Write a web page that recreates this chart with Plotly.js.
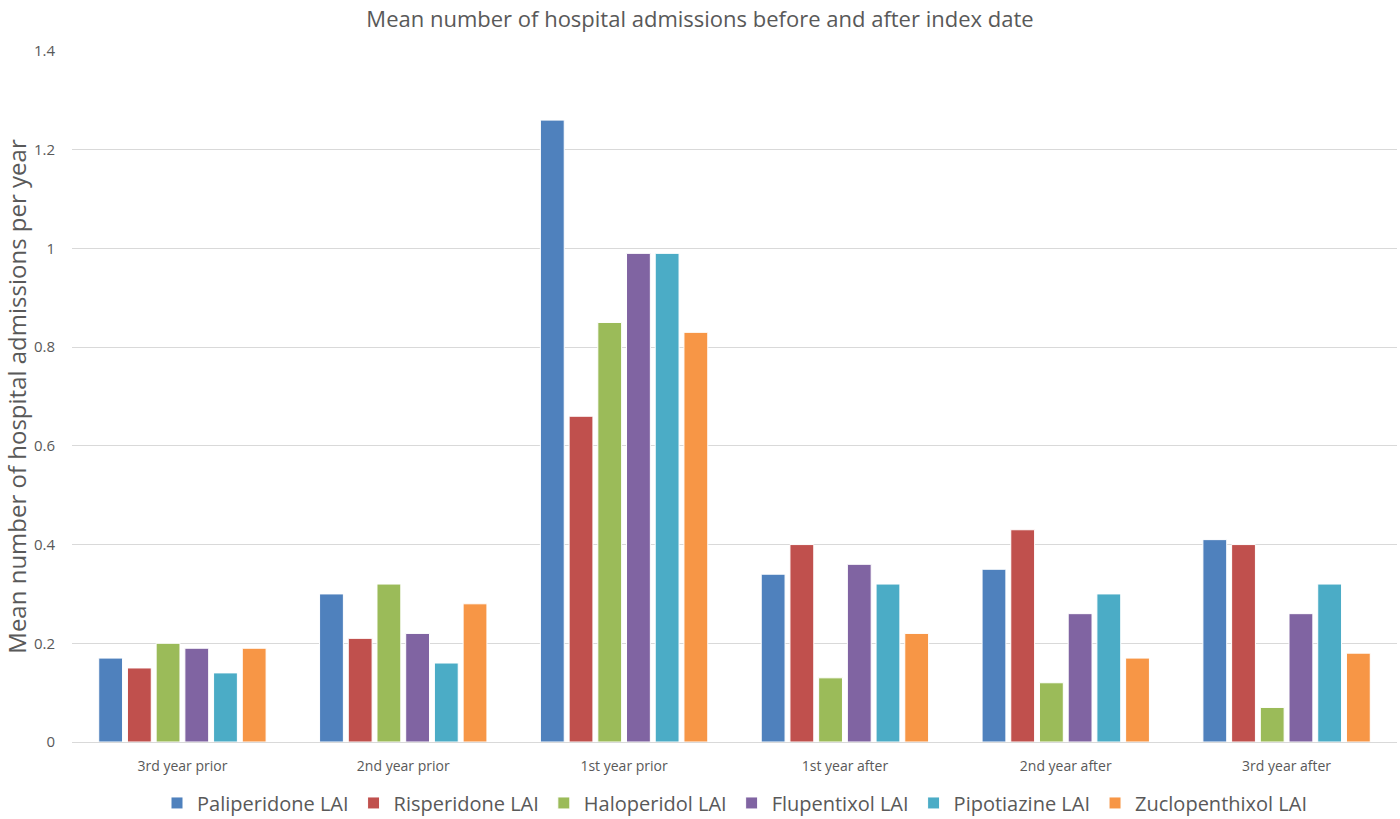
<!DOCTYPE html>
<html>
<head>
<meta charset="utf-8">
<script src="https://cdn.plot.ly/plotly-3.0.1.min.js"></script>
<style>
  html, body { margin: 0; padding: 0; background: #fff; }
  #plot { width: 1400px; height: 819px; }
</style>
</head>
<body>
<div id="plot"></div>
<script>
const periods = ["3rd year prior", "2nd year prior", "1st year prior", "1st year after", "2nd year after", "3rd year after"];

const paliperidone = [0.17, 0.30, 1.26, 0.34, 0.35, 0.41];
const risperidone = [0.15, 0.21, 0.66, 0.40, 0.43, 0.40];
const haloperidol = [0.20, 0.32, 0.85, 0.13, 0.12, 0.07];
const flupentixol = [0.19, 0.22, 0.99, 0.36, 0.26, 0.26];
const pipotiazine = [0.14, 0.16, 0.99, 0.32, 0.30, 0.32];
const zuclopenthixol = [0.19, 0.28, 0.83, 0.22, 0.17, 0.18];

const seriesNames = ["Paliperidone LAI", "Risperidone LAI", "Haloperidol LAI", "Flupentixol LAI", "Pipotiazine LAI", "Zuclopenthixol LAI"];
const seriesValues = [paliperidone, risperidone, haloperidol, flupentixol, pipotiazine, zuclopenthixol];
const colors = ["#4F81BD", "#C0504D", "#9BBB59", "#8064A2", "#4BACC6", "#F79646"];

const traces = seriesNames.map((name, i) => ({
  x: periods,
  y: seriesValues[i],
  name: name,
  type: "bar",
  marker: { color: colors[i], line: { color: "#ffffff", width: 1 } },
  hoverinfo: "x+y+name",
}));

const layout = {
  width: 1400,
  height: 819,
  font: { family: "Open Sans, Noto Sans, sans-serif", color: "#595959" },
  title: {
    text: "Mean number of hospital admissions before and after index date",
    font: { size: 22, color: "#595959" },
    x: 0.5,
    xanchor: "center",
    y: 0.976,
    yanchor: "middle",
  },
  margin: { l: 72, r: 3, t: 51, b: 77, autoexpand: false },
  barmode: "group",
  bargap: 0.22,
  bargroupgap: 0.17,
  xaxis: {
    tickfont: { size: 14, color: "#595959" },
    showline: true,
    linecolor: "#D9D9D9",
    linewidth: 1,
    ticks: "",
    showgrid: false,
    ticklabelstandoff: 11,
    automargin: false,
  },
  yaxis: {
    title: { text: "Mean number of hospital admissions per year", font: { size: 24, color: "#595959" }, standoff: 12 },
    range: [0, 1.4],
    tickvals: [0, 0.2, 0.4, 0.6, 0.8, 1, 1.2, 1.4],
    ticktext: ["0", "0.2", "0.4", "0.6", "0.8", "1", "1.2", "1.4"],
    tickfont: { size: 15, color: "#595959" },
    ticklabelstandoff: 16,
    gridcolor: "#D9D9D9",
    gridwidth: 1,
    zeroline: false,
    showline: false,
    ticks: "",
    automargin: false,
  },
  legend: {
    orientation: "h",
    x: 0.5,
    xanchor: "center",
    y: -0.06,
    yanchor: "top",
    font: { size: 20, color: "#595959" },
    traceorder: "normal",
    itemwidth: 30,
  },
  plot_bgcolor: "#ffffff",
  paper_bgcolor: "#ffffff",
};

Plotly.newPlot("plot", traces, layout, { displayModeBar: false });
</script>
</body>
</html>
